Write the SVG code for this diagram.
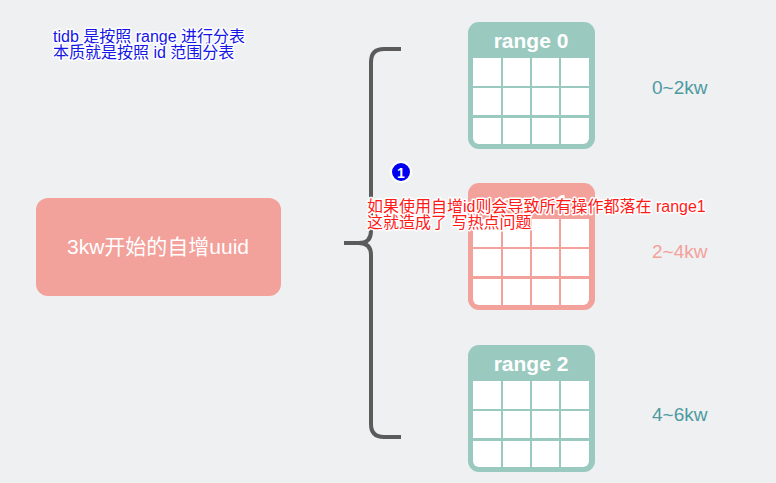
<svg xmlns="http://www.w3.org/2000/svg" xmlns:xlink="http://www.w3.org/1999/xlink" width="776" height="483" viewBox="0 0 776 483">
<style>
.hdr{font-family:"Liberation Sans",Arial,sans-serif;font-weight:bold;font-size:21px;fill:#fff;text-anchor:middle}
.lbl{font-family:"Liberation Sans",Arial,sans-serif;font-size:19px;text-anchor:start}
.note{font-family:"Liberation Sans","Noto Sans CJK SC",sans-serif;font-size:16px;stroke:#fff;stroke-width:3;stroke-linejoin:round;paint-order:stroke}
</style>
<defs>
<g id="cells" fill="#fff">
<rect x="5" y="36" width="28" height="28"/><rect x="35" y="36" width="27" height="28"/><rect x="64" y="36" width="27" height="28"/><rect x="93" y="36" width="28" height="28"/>
<rect x="5" y="66" width="28" height="27"/><rect x="35" y="66" width="27" height="27"/><rect x="64" y="66" width="27" height="27"/><rect x="93" y="66" width="28" height="27"/>
<path d="M5,96H33V122H11A6,6 0 0 1 5,116Z"/><rect x="35" y="96" width="27" height="26"/><rect x="64" y="96" width="27" height="26"/><path d="M93,96H121V116A6,6 0 0 1 115,122H93Z"/>
</g>
</defs>
<rect width="776" height="483" fill="#eff0f2"/>
<g id="source">
<rect x="36" y="198" width="245" height="98" rx="12" fill="#f2a19b"/>
<text x="158" y="254" font-family="Liberation Sans,'Noto Sans CJK SC',sans-serif" font-size="21" fill="#fff" text-anchor="middle">3kw开始的自增uuid</text>
</g>
<g id="connectors">
<path d="M401,49H384Q371,49 371,62V231Q371,243 359,243H344M359,243Q371,243 371,255V424Q371,437 384,437H401" fill="none" stroke="#5b5b5b" stroke-width="4"/>
</g>
<g id="range0" transform="translate(468,22)">
<rect width="127" height="127" rx="11" fill="#9ac9c0"/>
<use xlink:href="#cells"/>
<text class="hdr" x="63" y="26">range 0</text>
</g>
<g id="range1" transform="translate(468,183)">
<rect width="127" height="127" rx="11" fill="#f2a19b"/>
<use xlink:href="#cells"/>
<text class="hdr" x="63" y="26">range 1</text>
</g>
<g id="range2" transform="translate(468,345)">
<rect width="127" height="127" rx="11" fill="#9ac9c0"/>
<use xlink:href="#cells"/>
<text class="hdr" x="63" y="26">range 2</text>
</g>
<g id="labels">
<text class="lbl" x="652" y="94" fill="#4e9aa0">0~2kw</text>
<text class="lbl" x="652" y="258" fill="#f3a19b">2~4kw</text>
<text class="lbl" x="652" y="421" fill="#4e9aa0">4~6kw</text>
</g>
<g id="note-top">
<text class="note" fill="#1515e6" x="53" y="42">tidb 是按照 range 进行分表</text>
<text class="note" fill="#1515e6" x="53" y="58">本质就是按照 id 范围分表</text>
</g>
<g id="badge">
<circle cx="401" cy="172" r="10" fill="#0000f0" stroke="#fff" stroke-width="2"/>
<text x="401" y="177.5" font-family="Liberation Sans,sans-serif" font-weight="bold" font-size="14" fill="#fff" text-anchor="middle">1</text>
</g>
<g id="note-red">
<text class="note" fill="#ff1a1a" x="367" y="212">如果使用自增id则会导致所有操作都落在 range1</text>
<text class="note" fill="#ff1a1a" x="367" y="228">这就造成了 写热点问题</text>
</g>
</svg>
